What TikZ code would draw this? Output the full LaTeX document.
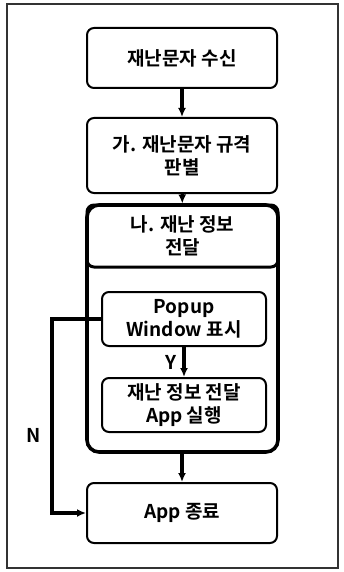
\documentclass[tikz,border=0pt]{standalone}
\usepackage{fontspec}
\setmainfont{Noto Sans CJK KR}[BoldFont={Noto Sans CJK KR Bold}]
\usetikzlibrary{positioning,
        arrows.meta}

\begin{document}
\begin{tikzpicture}[x=1pt,y=-1pt,
        font=\fontsize{19}{23}\selectfont\bfseries,
        stepbox/.style={rectangle,draw,rounded corners=7pt,line width=2pt,align=center,inner sep=2pt},
        flow/.style={-{Latex[length=9pt,width=8pt]},line width=3.2pt}]
            \useasboundingbox (0,0) rectangle (343,572);
            \draw [line width=2pt,black!80] (7,4) rectangle (338,568);

            \node [stepbox,minimum width=190,minimum height=60] (recv) at (182,58) {재난문자 수신};
            \node [stepbox,minimum width=190,minimum height=75] (check) at (182,155.5) {가. 재난문자 규격\\판별};
            \node [rectangle,draw,rounded corners=12pt,line width=3.6pt,minimum width=191,minimum height=247] (group) at (182.5,328.5) {};
            \node [stepbox,line width=3pt,minimum width=191,minimum height=62] (info) at (182.5,236) {나. 재난 정보\\전달};
            \node [stepbox,minimum width=164,minimum height=54] (popup) at (184,319) {Popup\\Window 표시};
            \node [stepbox,minimum width=164,minimum height=54] (run) at (184,405) {재난 정보 전달\\App 실행};
            \node [stepbox,minimum width=190,minimum height=60] (close) at (182,513) {App 종료};
            \coordinate (turn) at (52,319);

            \draw [flow] (recv) -- (check);
            \draw [flow] (check) -- (info);
            \draw [flow] (popup) -- node [left=3pt] {Y} (run);
            \draw [flow] (group.south -| close) -- (close);
            \draw [flow] (popup.west) -- (turn) |- node [pos=0.3,left=6pt] {N} (close.west);
        \end{tikzpicture}
\end{document}
